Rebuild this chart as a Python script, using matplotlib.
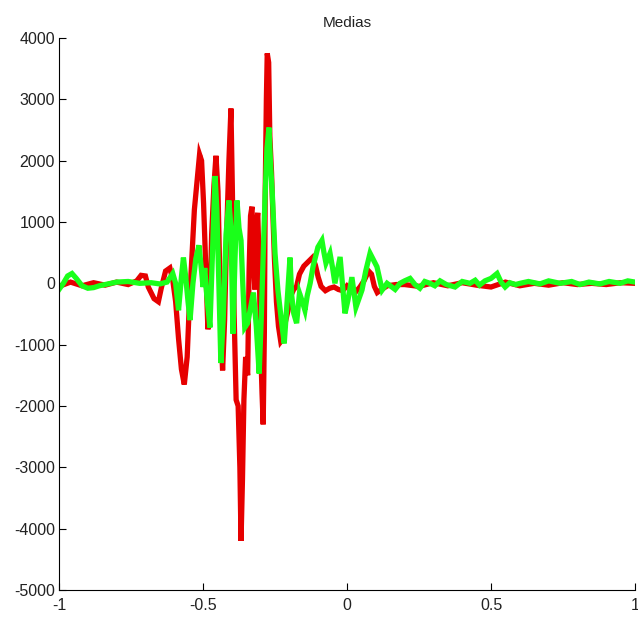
import matplotlib
matplotlib.use('Agg')
import matplotlib.pyplot as plt

# red trace
red_x = [-1.000, -0.960, -0.920, -0.880, -0.840, -0.800, -0.760, -0.730, -0.715, -0.700,
         -0.690, -0.670, -0.655, -0.645, -0.630, -0.615, -0.605, -0.595, -0.585, -0.575,
         -0.565, -0.555, -0.548, -0.540, -0.530, -0.520, -0.512, -0.505, -0.498, -0.490,
         -0.483, -0.476, -0.470, -0.462, -0.455, -0.448, -0.442, -0.436, -0.432, -0.425,
         -0.418, -0.410, -0.403, -0.398, -0.392, -0.385, -0.378, -0.372, -0.368, -0.363,
         -0.358, -0.352, -0.345, -0.340, -0.335, -0.330, -0.325, -0.320, -0.315, -0.310,
         -0.305, -0.300, -0.295, -0.291, -0.287, -0.284, -0.280, -0.277, -0.272, -0.268,
         -0.262, -0.258, -0.252, -0.245, -0.238, -0.230, -0.222, -0.215, -0.205, -0.195,
         -0.185, -0.175, -0.165, -0.150, -0.135, -0.120, -0.110, -0.100, -0.090, -0.075,
         -0.060, -0.045, -0.030, -0.015, 0.000, 0.015, 0.030, 0.045, 0.060, 0.075,
         0.085, 0.095, 0.105, 0.120, 0.140, 0.170, 0.200, 0.250, 0.300, 0.350,
         0.400, 0.450, 0.500, 0.550, 0.600, 0.650, 0.700, 0.750, 0.800, 0.850,
         0.900, 0.950, 1.000]
red_y = [-50, 20, -40, 10, -30, 20, -20, 40, 130, 120,
         -60, -250, -300, -80, 200, 250, 50, -300, -900, -1400,
         -1650, -1200, -400, 300, 1200, 1700, 2100, 2000, 1300, 200,
         -750, -400, 800, 1600, 2080, 1500, 200, -1000, -1420, -600,
         800, 2000, 2850, 1500, -500, -1900, -2000, -3000, -4200, -3200,
         -1900, -1200, -1500, 200, 1100, 1250, 400, -100, 900, 1150,
         300, -1000, -1800, -2300, -800, 1500, 3000, 3750, 3600, 2400,
         1800, 1200, 400, -300, -700, -950, -900, -650, -450, -200,
         -100, -50, 150, 280, 350, 420, 300, 100, -50, -120,
         -80, -60, -100, -120, -40, -100, -140, -60, 50, 200,
         150, -50, -150, -100, -40, -20, -20, -50, 10, -40,
         10, -30, -60, 20, -40, 0, -30, 10, -20, 0,
         -20, 10, 0]

# green trace
green_x = [-1.000, -0.985, -0.970, -0.955, -0.940, -0.920, -0.900, -0.880, -0.860, -0.840,
           -0.800, -0.760, -0.720, -0.680, -0.650, -0.625, -0.605, -0.595, -0.585, -0.575,
           -0.568, -0.560, -0.552, -0.545, -0.535, -0.525, -0.514, -0.505, -0.500, -0.494,
           -0.487, -0.476, -0.468, -0.458, -0.452, -0.445, -0.438, -0.430, -0.420, -0.410,
           -0.403, -0.396, -0.389, -0.382, -0.375, -0.368, -0.362, -0.355, -0.345, -0.335,
           -0.325, -0.315, -0.305, -0.298, -0.290, -0.285, -0.278, -0.271, -0.265, -0.260,
           -0.250, -0.240, -0.228, -0.218, -0.208, -0.198, -0.192, -0.185, -0.175, -0.165,
           -0.155, -0.146, -0.138, -0.128, -0.118, -0.101, -0.087, -0.080, -0.073, -0.059,
           -0.050, -0.042, -0.024, -0.007, 0.003, 0.017, 0.031, 0.052, 0.065, 0.080,
           0.095, 0.104, 0.122, 0.139, 0.167, 0.184, 0.200, 0.219, 0.236, 0.253,
           0.270, 0.288, 0.305, 0.323, 0.345, 0.375, 0.400, 0.427, 0.445, 0.460,
           0.479, 0.500, 0.521, 0.535, 0.549, 0.565, 0.585, 0.601, 0.630, 0.670,
           0.700, 0.740, 0.780, 0.809, 0.840, 0.878, 0.910, 0.948, 0.975, 1.000]
green_y = [-100, 0, 120, 160, 80, -40, -80, -70, -40, -20,
           20, 30, 0, 10, -10, 20, 160, 0, -440, 100,
           420, 100, -300, -600, 0, 400, 620, 200, -60, 250,
           -200, -720, 400, 1750, 1200, 0, -1300, -600, 800, 1350,
           900, -820, 400, 1350, 900, 700, 0, -720, -650, -400,
           -150, -700, -1470, -600, 600, 1350, 2200, 2540, 1900, 1520,
           490, -110, -600, -980, -300, 420, -200, -490, -650, -160,
           -300, -440, -200, 0, 270, 590, 700, 500, 330, 490,
           250, 0, 430, -490, -280, 100, -390, -110, 200, 490,
           350, 270, -110, 0, -100, 0, 40, 80, -20, -80,
           30, 0, -40, 40, -20, -60, 30, 0, 50, -30,
           40, 80, 160, 20, -60, 10, -20, 0, 30, -10,
           40, 0, 30, -20, 20, -10, 30, 0, 40, 20]

x_ticks = [-1, -0.5, 0, 0.5, 1]
x_labels = ['-1', '-0.5', '0', '0.5', '1']
y_ticks = [-5000, -4000, -3000, -2000, -1000, 0, 1000, 2000, 3000, 4000]

plt.rcParams['font.family'] = ['Liberation Sans', 'DejaVu Sans']
plt.rcParams['axes.unicode_minus'] = False

fig = plt.figure(figsize=(6.38, 6.17), dpi=100)
ax = fig.add_axes([0.0925, 0.0438, 0.9028, 0.8946])

ax.plot(red_x, red_y, color='#e60000', linewidth=3.8, solid_joinstyle='miter')
ax.plot(green_x, green_y, color='#1aff1a', linewidth=3.8, solid_joinstyle='miter')

ax.set_xlim(-1, 1)
ax.set_ylim(-5000, 4000)
ax.set_xticks(x_ticks)
ax.set_xticklabels(x_labels)
ax.set_yticks(y_ticks)

ax.spines['top'].set_visible(False)
ax.spines['right'].set_visible(False)
ax.tick_params(direction='in', length=5, labelsize=11.5, colors='black')
ax.tick_params(axis='x', pad=6)
ax.tick_params(axis='y', pad=3)
for lab in ax.get_xticklabels() + ax.get_yticklabels():
    lab.set_color('#222222')

ax.set_title('Medias', fontsize=11, color='#222222', pad=8)

fig.savefig('out.png', dpi=100)
